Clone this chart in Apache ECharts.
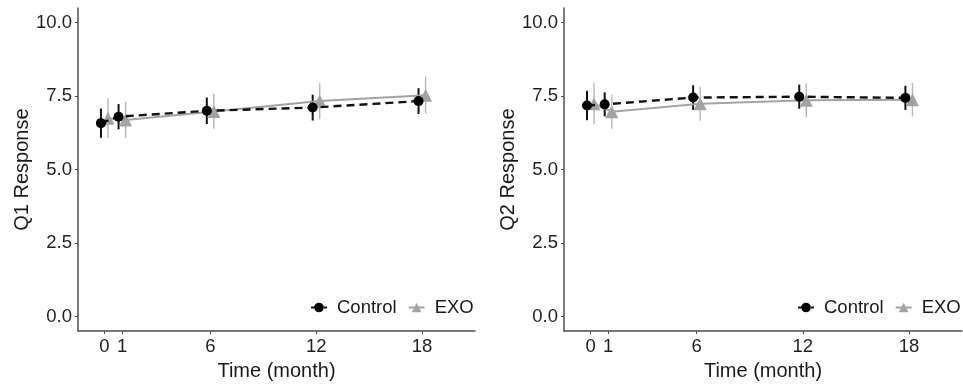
<!DOCTYPE html>
<html>
<head>
<meta charset="utf-8">
<script src="https://cdn.jsdelivr.net/npm/echarts@6/dist/echarts.min.js"></script>
<style>
  html, body { margin: 0; padding: 0; background: #fff; }
  #chart { width: 963px; height: 386px; }
</style>
</head>
<body>
<div id="chart"></div>
<script>
// months measured and the tick labels on both axes
const months = [0, 1, 6, 12, 18];
const yTicks = [0, 2.5, 5, 7.5, 10];

// Q1 panel: means and half-width of error bars
const q1Control = [6.58, 6.80, 7.00, 7.11, 7.33];
const q1ControlErr = [0.50, 0.43, 0.45, 0.44, 0.44];
const q1Exo = [6.75, 6.69, 6.98, 7.33, 7.53];
const q1ExoErr = [0.68, 0.62, 0.59, 0.61, 0.62];

// Q2 panel
const q2Control = [7.18, 7.22, 7.45, 7.48, 7.44];
const q2ControlErr = [0.50, 0.41, 0.42, 0.41, 0.41];
const q2Exo = [7.24, 6.97, 7.24, 7.36, 7.38];
const q2ExoErr = [0.70, 0.58, 0.58, 0.57, 0.57];

const dodge = 0.2;
const font = 'Liberation Sans, Arial, Helvetica, sans-serif';

const myChart = echarts.init(document.getElementById('chart'));

const pts = (vals, off) => vals.map((v, i) => [months[i] + off, v]);
const bars = (vals, errs, off) => vals.map((v, i) => [months[i] + off, v - errs[i], v + errs[i]]);

const errSeries = (name, data, idx, color, width) => ({
    name: name,
    type: 'custom',
    xAxisIndex: idx,
    yAxisIndex: idx,
    z: 1,
    silent: true,
    data: data,
    renderItem: (params, api) => {
        const p1 = api.coord([api.value(0), api.value(1)]);
        const p2 = api.coord([api.value(0), api.value(2)]);
        return {
            type: 'line',
            shape: {x1: p1[0], y1: p1[1], x2: p2[0], y2: p2[1]},
            style: {stroke: color, lineWidth: width}
        };
    }
});

const controlLine = (data, idx) => ({
    name: 'Control',
    type: 'line',
    xAxisIndex: idx,
    yAxisIndex: idx,
    z: 3,
    data: data,
    symbol: 'circle',
    symbolSize: 10,
    itemStyle: {color: '#000'},
    lineStyle: {color: '#111', width: 2.4, type: [8, 5]},
    animation: false
});

const exoLine = (data, idx) => ({
    name: 'EXO',
    type: 'line',
    xAxisIndex: idx,
    yAxisIndex: idx,
    z: 2,
    data: data,
    symbol: 'triangle',
    symbolSize: 13,
    itemStyle: {color: '#a3a3a3'},
    lineStyle: {color: '#a3a3a3', width: 2},
    animation: false
});

const xAxis = (idx) => ({
    type: 'value',
    gridIndex: idx,
    min: -1.5,
    max: 21,
    name: 'Time (month)',
    nameLocation: 'middle',
    nameGap: 21,
    nameTextStyle: {fontFamily: font, fontSize: 20, color: '#1a1a1a'},
    axisLine: {onZero: false, lineStyle: {color: '#4d4d4d', width: 1.5}},
    axisTick: {show: true, length: 3, customValues: months, lineStyle: {color: '#4d4d4d'}},
    axisLabel: {customValues: months, margin: 6, fontFamily: font, fontSize: 18.5, color: '#1f1f1f'},
    splitLine: {show: false}
});

const yAxis = (idx, title) => ({
    type: 'value',
    gridIndex: idx,
    min: -0.5,
    max: 10.5,
    name: title,
    nameLocation: 'middle',
    nameGap: 46,
    nameTextStyle: {fontFamily: font, fontSize: 20, color: '#1a1a1a'},
    axisLine: {show: true, onZero: false, lineStyle: {color: '#4d4d4d', width: 1.5}},
    axisTick: {show: true, length: 3, customValues: yTicks, lineStyle: {color: '#4d4d4d'}},
    axisLabel: {
        customValues: yTicks, margin: 6, fontFamily: font, fontSize: 18.5, color: '#1f1f1f',
        formatter: (v) => v.toFixed(1)
    },
    splitLine: {show: false}
});

const legend = (left) => ({
    data: ['Control', 'EXO'],
    left: left,
    top: 298,
    width: 200,
    padding: 0,
    itemWidth: 16,
    itemHeight: 12,
    itemGap: 11,
    selectedMode: false,
    textStyle: {fontFamily: font, fontSize: 18.5, color: '#1a1a1a', padding: [0, 0, 0, 5]}
});

myChart.setOption({
    backgroundColor: '#fff',
    animation: false,
    grid: [
        {left: 78, top: 8, width: 397, height: 331},
        {left: 564, top: 8, width: 398, height: 331}
    ],
    legend: [legend(310), legend(797)],
    xAxis: [xAxis(0), xAxis(1)],
    yAxis: [yAxis(0, 'Q1 Response'), yAxis(1, 'Q2 Response')],
    series: [
        errSeries('Control err', bars(q1Control, q1ControlErr, -dodge), 0, '#111', 2),
        errSeries('EXO err', bars(q1Exo, q1ExoErr, dodge), 0, '#b5b5b5', 1.4),
        exoLine(pts(q1Exo, dodge), 0),
        controlLine(pts(q1Control, -dodge), 0),
        errSeries('Control err', bars(q2Control, q2ControlErr, -dodge), 1, '#111', 2),
        errSeries('EXO err', bars(q2Exo, q2ExoErr, dodge), 1, '#b5b5b5', 1.4),
        exoLine(pts(q2Exo, dodge), 1),
        controlLine(pts(q2Control, -dodge), 1)
    ]
});
</script>
</body>
</html>
